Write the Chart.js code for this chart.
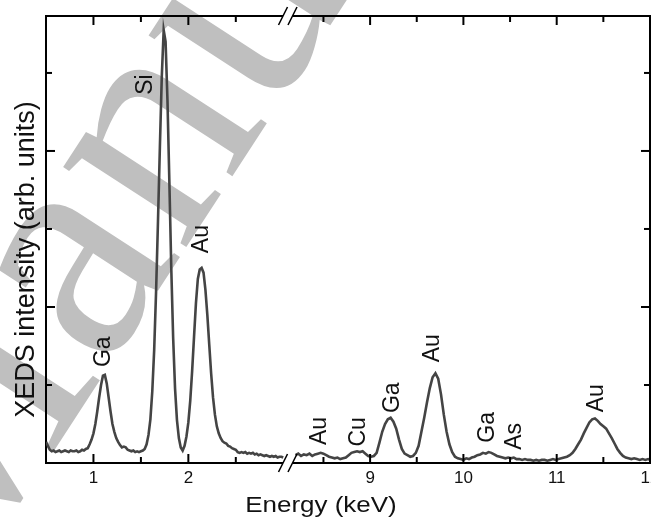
<!DOCTYPE html>
<html><head><meta charset="utf-8">
<script src="https://cdn.jsdelivr.net/npm/chart.js@4.4.1/dist/chart.umd.min.js"></script>
<style>html,body{margin:0;padding:0;background:#fff;}canvas{display:block;}</style>
</head><body>
<canvas id="c" width="651" height="519"></canvas>
<script>
// ---- data (energy in keV, intensity in arbitrary units) ----
const lowEnergy = [0.50,0.52,0.54,0.56,0.58,0.60,0.62,0.64,0.66,0.68,0.70,0.72,0.74,0.76,0.78,0.80,0.82,0.84,0.86,0.88,0.90,0.92,0.94,0.96,0.98,
1.00,1.02,1.04,1.06,1.08,1.10,1.12,1.14,1.16,1.18,1.20,1.22,1.24,1.26,1.28,1.30,1.32,1.34,1.36,1.38,1.40,1.42,1.44,1.46,1.48,
1.50,1.52,1.54,1.56,1.58,1.60,1.62,1.64,1.66,1.68,1.70,1.72,1.74,1.76,1.78,1.80,1.82,1.84,1.86,1.88,1.90,1.92,1.94,1.96,1.98,
2.00,2.02,2.04,2.06,2.08,2.10,2.12,2.14,2.16,2.18,2.20,2.22,2.24,2.26,2.28,2.30,2.32,2.34,2.36,2.38,2.40,2.42,2.44,2.46,2.48,
2.50,2.52,2.54,2.56,2.58,2.60,2.62,2.64,2.66,2.68,2.70,2.72,2.74,2.76,2.78,2.80,2.82,2.84,2.86,2.88,2.90,2.92,2.94,2.96,2.98,3.00];
const lowCounts = [0.27,0.22,0.17,0.15,0.16,0.14,0.15,0.16,0.14,0.15,0.16,0.15,0.14,0.16,0.15,0.15,0.16,0.14,0.15,0.17,0.16,0.18,0.19,0.24,0.30,
0.38,0.50,0.66,0.84,1.00,1.12,1.13,1.02,0.84,0.66,0.50,0.40,0.32,0.27,0.23,0.20,0.21,0.20,0.17,0.16,0.15,0.16,0.14,0.15,0.14,
0.15,0.16,0.18,0.24,0.36,0.56,0.92,1.45,2.20,3.10,4.05,4.95,5.55,5.40,4.65,3.60,2.50,1.60,0.95,0.55,0.32,0.20,0.16,0.22,0.34,
0.52,0.80,1.18,1.62,2.05,2.36,2.48,2.50,2.44,2.22,1.90,1.52,1.15,0.84,0.62,0.47,0.38,0.32,0.28,0.26,0.25,0.22,0.21,0.19,0.18,
0.17,0.14,0.13,0.14,0.13,0.14,0.12,0.13,0.12,0.13,0.11,0.12,0.10,0.11,0.10,0.09,0.10,0.09,0.08,0.09,0.08,0.09,0.07,0.08,0.08,0.07];

const highEnergy = [8.20,8.23,8.26,8.29,8.32,8.35,8.38,8.41,8.44,8.47,8.50,8.53,8.56,8.59,8.62,8.65,8.68,8.71,8.74,8.77,8.80,8.83,8.86,8.89,8.92,8.95,8.98,
9.01,9.04,9.07,9.10,9.13,9.16,9.19,9.22,9.25,9.28,9.31,9.34,9.37,9.40,9.43,9.46,9.49,9.52,9.55,9.58,9.61,9.64,9.67,9.70,9.73,9.76,9.79,9.82,9.85,9.88,9.91,9.94,9.97,
10.00,10.03,10.06,10.09,10.12,10.15,10.18,10.21,10.24,10.27,10.30,10.33,10.36,10.39,10.42,10.45,10.48,10.51,10.54,10.57,10.60,10.63,10.66,10.69,10.72,10.75,10.78,10.81,10.84,10.87,10.90,10.93,10.96,10.99,
11.02,11.05,11.08,11.11,11.14,11.17,11.20,11.23,11.26,11.29,11.32,11.35,11.38,11.41,11.44,11.47,11.50,11.53,11.56,11.59,11.62,11.65,11.68,11.71,11.74,11.77,11.80,11.83,11.86,11.89,11.92,11.95,11.98,12.00];
const highCounts = [0.10,0.12,0.09,0.11,0.10,0.12,0.09,0.11,0.12,0.13,0.12,0.10,0.08,0.07,0.06,0.07,0.05,0.06,0.07,0.10,0.13,0.14,0.15,0.14,0.15,0.12,0.09,
0.08,0.09,0.13,0.26,0.40,0.50,0.56,0.58,0.53,0.44,0.30,0.18,0.12,0.10,0.08,0.09,0.13,0.22,0.40,0.58,0.78,0.96,1.10,1.15,1.08,0.88,0.62,0.40,0.24,0.14,0.08,0.06,0.05,
0.04,0.06,0.05,0.07,0.08,0.10,0.11,0.13,0.12,0.14,0.13,0.11,0.09,0.08,0.07,0.06,0.07,0.06,0.07,0.05,0.05,0.04,0.05,0.04,0.04,0.03,0.04,0.03,0.04,0.04,0.03,0.04,0.05,0.04,
0.05,0.06,0.07,0.08,0.10,0.13,0.18,0.24,0.30,0.38,0.45,0.52,0.56,0.57,0.54,0.50,0.47,0.44,0.38,0.32,0.25,0.18,0.13,0.09,0.07,0.06,0.05,0.06,0.05,0.04,0.05,0.04,0.05,0.04];

const leftTickLabels = [1, 2];
const rightTickLabels = [9, 10, 11, 12];

const peakNames  = ['Ga', 'Si', 'Au', 'Au', 'Cu', 'Ga', 'Au', 'Ga', 'As', 'Au'];
const peakEnergy = [1.11, 1.553, 2.14, 8.457, 8.88, 9.24, 9.675, 10.26, 10.55, 11.43];
const peakLabelBase = [1.23, 4.72, 2.69, 0.23, 0.21, 0.64, 1.29, 0.26, 0.17, 0.65];

const xTitle = 'Energy (keV)';
const yTitle = 'XEDS intensity (arb. units)';
const watermark = 'Accepted Manuscript';

// ---- drawing ----
const SANS = '"Liberation Sans", Arial, sans-serif';

const decor = {
  id: 'decor',
  beforeDraw(chart) {
    const ctx = chart.ctx;
    ctx.save();
    ctx.fillStyle = '#fff';
    ctx.fillRect(0, 0, chart.width, chart.height);
    ctx.translate(-50, 611);
    ctx.rotate(-57 * Math.PI / 180);
    ctx.font = '320px "Liberation Serif", serif';
    ctx.fillStyle = '#bfbfbf';
    ctx.textBaseline = 'alphabetic';
    ctx.textAlign = 'left';
    const w = ctx.measureText('Accepted ').width;
    ctx.fillText(watermark, -w, 0);
    ctx.restore();
  },
  afterDraw(chart) {
    const {ctx, chartArea: a, scales} = chart;
    const xL = scales.xL, xR = scales.xR, y = scales.y;
    ctx.save();
    ctx.strokeStyle = '#000';
    ctx.lineWidth = 2;
    const seg = (x1, y1, x2, y2) => { ctx.beginPath(); ctx.moveTo(x1, y1); ctx.lineTo(x2, y2); ctx.stroke(); };
    // top and right frame
    seg(a.left - 1, a.top, a.right + 1, a.top);
    seg(a.right, a.top - 1, a.right, a.bottom + 1);
    const bx = xL.right;
    // x ticks (inward, bottom and top)
    [xL, xR].forEach(sc => {
      sc.ticks.forEach(t => {
        const px = sc.getPixelForValue(t.value);
        if (px < a.left + 3 || px > a.right - 3) return;
        if (Math.abs(px - bx) < 8) return;
        const len = Number.isInteger(t.value) ? 9 : 6;
        seg(px, a.bottom, px, a.bottom - len);
        seg(px, a.top, px, a.top + len);
      });
    });
    // y ticks (inward, left and right)
    y.ticks.forEach(t => {
      const py = y.getPixelForValue(t.value);
      if (py > a.bottom - 3 || py < a.top + 3) return;
      const len = (t.value % 2 === 0) ? 9 : 6;
      seg(a.left, py, a.left + len, py);
      seg(a.right, py, a.right - len, py);
    });
    // axis break
    ctx.fillStyle = '#fff';
    [a.top, a.bottom].forEach(yy => {
      ctx.fillRect(bx - 5, yy - 2, 9.5, 4);
    });
    ctx.lineWidth = 1.6;
    [a.top, a.bottom].forEach(yy => {
      [-5, 4.5].forEach(off => {
        seg(bx + off - 4.5, yy + 9, bx + off + 4.5, yy - 9);
      });
    });
    // peak labels
    ctx.fillStyle = '#111';
    ctx.font = '23px ' + SANS;
    ctx.textAlign = 'left';
    ctx.textBaseline = 'middle';
    peakNames.forEach((name, i) => {
      const sc = peakEnergy[i] < 5 ? xL : xR;
      const px = sc.getPixelForValue(peakEnergy[i]);
      const py = y.getPixelForValue(peakLabelBase[i]);
      ctx.save();
      ctx.translate(px, py);
      ctx.rotate(-Math.PI / 2);
      ctx.fillText(name, 0, 0);
      ctx.restore();
    });
    // axis titles
    ctx.save();
    ctx.font = '27px ' + SANS;
    ctx.textAlign = 'center';
    ctx.textBaseline = 'middle';
    ctx.translate(27, 259.5);
    ctx.rotate(-Math.PI / 2);
    ctx.fillText(yTitle, 0, 0);
    ctx.restore();
    ctx.save();
    ctx.font = '22px ' + SANS;
    ctx.textAlign = 'center';
    ctx.textBaseline = 'alphabetic';
    ctx.translate(321, 512);
    ctx.scale(1.18, 1);
    ctx.fillText(xTitle, 0, 0);
    ctx.restore();
    ctx.restore();
  }
};

const lineStyle = {borderColor: '#444', borderWidth: 2.6, pointRadius: 0, tension: 0, fill: false};
const tickFont = {family: SANS, size: 17};

new Chart(document.getElementById('c'), {
  type: 'line',
  data: {
    datasets: [
      Object.assign({label: 'low', xAxisID: 'xL', yAxisID: 'y',
        data: lowEnergy.map((e, i) => ({x: e, y: lowCounts[i]}))}, lineStyle),
      Object.assign({label: 'high', xAxisID: 'xR', yAxisID: 'y',
        data: highEnergy.map((e, i) => ({x: e, y: highCounts[i]}))}, lineStyle)
    ]
  },
  options: {
    responsive: false,
    animation: false,
    devicePixelRatio: 1,
    layout: {padding: {top: 16, right: 1, left: 0, bottom: 0}},
    plugins: {legend: {display: false}, tooltip: {enabled: false}, title: {display: false}},
    scales: {
      xL: {
        type: 'linear', position: 'bottom', stack: 'energy', stackWeight: 242, weight: 0,
        min: 0.5, max: 3.05,
        grid: {display: false, drawTicks: false},
        border: {display: true, color: '#000', width: 2},
        ticks: {stepSize: 0.5, includeBounds: false, autoSkip: false, maxRotation: 0, minRotation: 0,
          padding: 5, color: '#111', font: tickFont,
          callback: v => leftTickLabels.includes(v) ? String(v) : ''},
        afterFit: s => { s.height = 56; s.paddingLeft = 0; s.paddingRight = 0; }
      },
      xR: {
        type: 'linear', position: 'bottom', stack: 'energy', stackWeight: 362, weight: 1,
        min: 8.12, max: 12,
        grid: {display: false, drawTicks: false},
        border: {display: true, color: '#000', width: 2},
        ticks: {stepSize: 0.5, includeBounds: false, autoSkip: false, maxRotation: 0, minRotation: 0,
          padding: 5, color: '#111', font: tickFont,
          callback: v => rightTickLabels.includes(v) ? String(v) : ''},
        afterFit: s => { s.height = 56; s.paddingLeft = 0; s.paddingRight = 0; }
      },
      y: {
        type: 'linear', position: 'left', min: 0, max: 5.73,
        grid: {display: false, drawTicks: false},
        border: {display: true, color: '#000', width: 2},
        ticks: {display: false, stepSize: 1, includeBounds: false},
        afterFit: s => { s.width = 46; s.paddingTop = 0; s.paddingBottom = 0; }
      }
    }
  },
  plugins: [decor]
});
</script>
</body></html>
